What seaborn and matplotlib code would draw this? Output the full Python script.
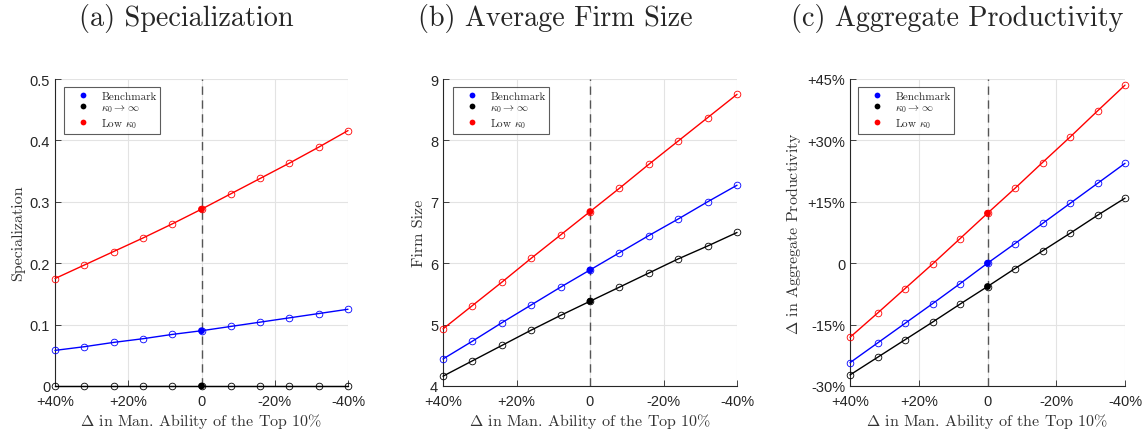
import matplotlib
matplotlib.use("Agg")
import matplotlib.pyplot as plt
import matplotlib.ticker as mticker
import seaborn as sns
import pandas as pd
import numpy as np

# shift in managerial ability of the top 10% (x axis runs from +40% to -40%)
shift = [40, 32, 24, 16, 8, 0, -8, -16, -24, -32, -40]

series = ["Benchmark", r"$\kappa_0 \rightarrow \infty$", r"Low $\kappa_0$"]
colors = ["#0000ff", "#000000", "#ff0000"]

# (a) specialization
spec_bench = [0.058, 0.064, 0.071, 0.077, 0.084, 0.090, 0.097, 0.104, 0.111, 0.118, 0.125]
spec_inf = [0, 0, 0, 0, 0, 0, 0, 0, 0, 0, 0]
spec_low = [0.175, 0.197, 0.219, 0.241, 0.264, 0.288, 0.313, 0.338, 0.363, 0.389, 0.416]

# (b) average firm size
size_bench = [4.44, 4.73, 5.03, 5.32, 5.61, 5.89, 6.17, 6.45, 6.72, 7.00, 7.27]
size_inf = [4.16, 4.41, 4.66, 4.91, 5.15, 5.38, 5.61, 5.84, 6.07, 6.28, 6.50]
size_low = [4.93, 5.31, 5.69, 6.08, 6.46, 6.84, 7.22, 7.61, 7.99, 8.37, 8.75]

# (c) change in aggregate productivity, %
prod_bench = [-24.3, -19.5, -14.7, -9.9, -5.0, 0.0, 4.8, 9.7, 14.6, 19.5, 24.4]
prod_inf = [-27.3, -23.0, -18.7, -14.4, -10.0, -5.7, -1.3, 3.0, 7.3, 11.7, 15.9]
prod_low = [-18.1, -12.2, -6.2, -0.2, 6.0, 12.2, 18.3, 24.6, 30.8, 37.2, 43.5]

titles = ["(a) Specialization", "(b) Average Firm Size", "(c) Aggregate Productivity"]
ylabels = ["Specialization", "Firm Size", r"$\Delta$ in Aggregate Productivity"]
xlabel = r"$\Delta$ in Man. Ability of the Top 10%"

sns.set_theme(style="white")
plt.rcParams["font.family"] = ["Liberation Sans", "DejaVu Sans"]
plt.rcParams["mathtext.fontset"] = "cm"
plt.rcParams["axes.unicode_minus"] = False
serif = "cmr10"


def make_frame(values):
    rows = []
    for name, vals in zip(series, values):
        for x, y in zip(shift, vals):
            rows.append({"shift": x, "value": y, "series": name})
    return pd.DataFrame(rows)


def pct_fmt(v, pos):
    if abs(v) < 1e-9:
        return "0"
    return "{:+.0f}%".format(v)


fig = plt.figure(figsize=(11.46, 4.35), dpi=100)
boxes = [
    [55 / 1146, 48 / 435, 293 / 1146, 307 / 435],
    [443 / 1146, 48 / 435, 294 / 1146, 307 / 435],
    [850 / 1146, 48 / 435, 275 / 1146, 307 / 435],
]
legend_dx = [9, 10, 8]
title_x = [186, 555, 957]
panels = [
    [spec_bench, spec_inf, spec_low],
    [size_bench, size_inf, size_low],
    [prod_bench, prod_inf, prod_low],
]
ylims = [(0, 0.5), (4, 9), (-30, 45)]
yticks = [np.arange(0, 0.51, 0.1), np.arange(4, 9.1, 1), np.arange(-30, 46, 15)]

for i in range(3):
    ax = fig.add_axes(boxes[i])
    df = make_frame(panels[i])
    ax.axvline(0, color="#555555", lw=1.0, ls=(0, (6, 4)), zorder=2)
    for name, col in zip(series, colors):
        sub = df[df["series"] == name]
        sns.lineplot(data=sub, x="shift", y="value", ax=ax, color=col, lw=1.0,
                     marker="o", markersize=4.8, mfc="none", mec=col, mew=0.6,
                     legend=False, zorder=3, clip_on=False)
    centre = df[df["shift"] == 0]
    sns.scatterplot(data=centre, x="shift", y="value", hue="series",
                    hue_order=series, palette=colors, s=24, linewidth=0,
                    ax=ax, zorder=4, clip_on=False)

    ax.set_xlim(40, -40)
    ax.set_ylim(*ylims[i])
    ax.set_xticks([40, 20, 0, -20, -40])
    ax.xaxis.set_major_formatter(mticker.FuncFormatter(pct_fmt))
    ax.set_yticks(yticks[i])
    if i == 0:
        ax.yaxis.set_major_formatter(mticker.FuncFormatter(
            lambda v, p: "0" if abs(v) < 1e-9 else "{:.1f}".format(v)))
    elif i == 2:
        ax.yaxis.set_major_formatter(mticker.FuncFormatter(pct_fmt))
    ax.grid(True, color="#e3e3e3", lw=0.8)
    ax.set_axisbelow(True)
    for side in ["top", "right"]:
        ax.spines[side].set_visible(False)
    for side in ["left", "bottom"]:
        ax.spines[side].set_color("#262626")
        ax.spines[side].set_linewidth(0.8)
    ax.tick_params(direction="in", length=4, width=0.6, labelsize=10.5,
                   colors="#262626", left=True, bottom=True)
    ax.tick_params(axis="x", pad=6)
    ax.tick_params(axis="y", pad=3.5)
    ax.set_xlabel(xlabel, fontfamily=serif, fontsize=11.5, color="#333333", labelpad=2)
    ax.set_ylabel(ylabels[i], fontfamily=serif, fontsize=11.5, color="#333333", labelpad=3)

    w_px = boxes[i][2] * 1146
    leg = ax.legend(loc="upper left", frameon=True, fancybox=False,
                    borderpad=0.35, handlelength=2.7, handletextpad=0.3,
                    labelspacing=0.15, borderaxespad=0, markerscale=0.85,
                    bbox_to_anchor=(legend_dx[i] / w_px, 1 - 8 / 307),
                    prop={"family": serif, "size": 8})
    leg.get_frame().set_edgecolor("#333333")
    leg.get_frame().set_linewidth(0.8)

    fig.text(title_x[i] / 1146, 1 - 26 / 435, titles[i], fontfamily=serif,
             fontsize=20.3, ha="center", va="baseline")

fig.savefig("out.png", dpi=100)
